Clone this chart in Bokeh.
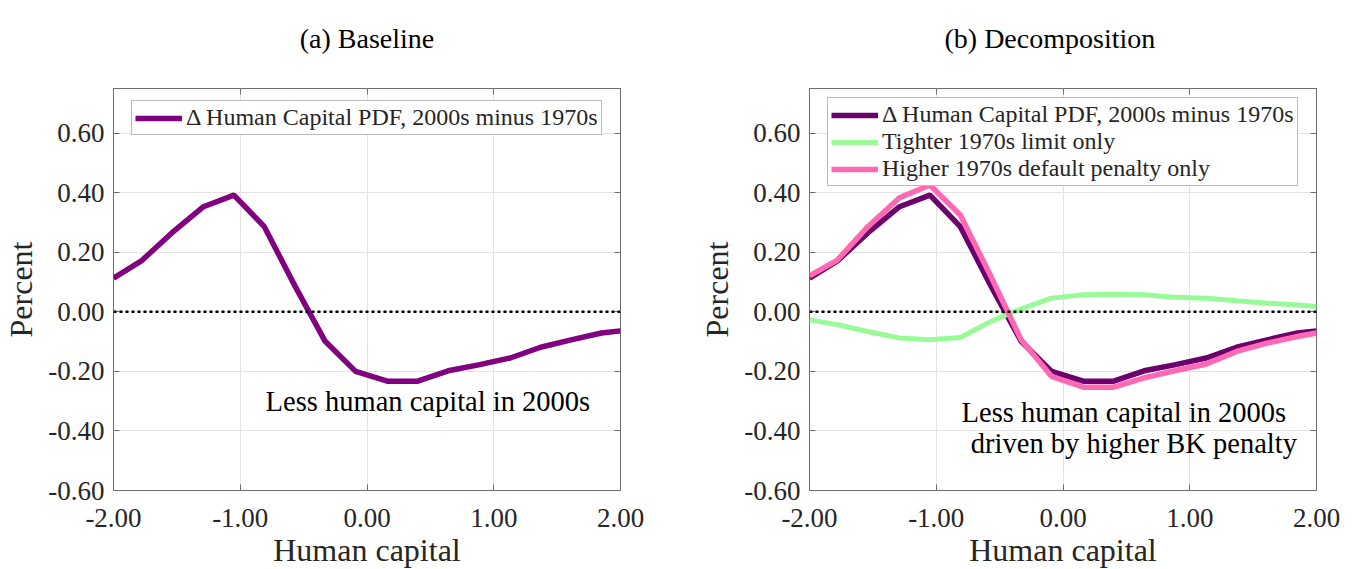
from bokeh.plotting import figure
from bokeh.models import (Range1d, FixedTicker, NumeralTickFormatter, LinearAxis, Label,
                          Span, CustomLabelingPolicy)
from bokeh.layouts import row
from bokeh.embed import file_html
from bokeh.resources import INLINE

# ---- data ----
human_capital = [-2.00, -1.78, -1.54, -1.29, -1.05, -0.81, -0.57, -0.33, -0.09,
                 0.16, 0.40, 0.64, 0.88, 1.13, 1.37, 1.61, 1.85, 2.00]
delta_pdf = [0.113, 0.171, 0.265, 0.353, 0.392, 0.286, 0.088, -0.099, -0.200,
             -0.233, -0.233, -0.198, -0.178, -0.155, -0.119, -0.094, -0.071, -0.064]
tighter_limit = [-0.027, -0.043, -0.066, -0.088, -0.094, -0.086, -0.032, 0.010, 0.046,
                 0.057, 0.059, 0.057, 0.049, 0.046, 0.037, 0.029, 0.023, 0.018]
higher_penalty = [0.121, 0.174, 0.286, 0.383, 0.426, 0.325, 0.120, -0.094, -0.217,
                  -0.253, -0.253, -0.222, -0.198, -0.175, -0.133, -0.105, -0.083, -0.071]
x_ticks = [-2, -1, 0, 1, 2]
y_ticks = [-0.6, -0.4, -0.2, 0.0, 0.2, 0.4, 0.6]

FONT = "Liberation Serif"
FRAME_GRAY = "#6e6e6e"
TXT = "#262626"


def make_fig(border_left, title, title_align, title_offset):
    p = figure(frame_width=507, frame_height=402,
               x_range=Range1d(-2, 2), y_range=Range1d(-0.6, 0.75),
               min_border_left=border_left, min_border_right=40,
               min_border_top=88, min_border_bottom=10,
               output_backend="svg", toolbar_location=None,
               background_fill_color="white", border_fill_color="white")
    p.title.text = title
    p.title.text_font = FONT
    p.title.text_font_size = "28px"
    p.title.text_font_style = "normal"
    p.title.text_color = "black"
    p.title.align = title_align
    p.title.offset = title_offset
    p.title.standoff = 44
    p.title.vertical_align = "top"

    p.outline_line_color = FRAME_GRAY
    p.outline_line_width = 1
    for ax in (p.xaxis[0], p.yaxis[0]):
        ax.axis_line_color = None
        ax.major_tick_line_color = FRAME_GRAY
        ax.major_tick_in = 6
        ax.major_tick_out = 0
        ax.minor_tick_line_color = None
        ax.major_label_text_font = FONT
        ax.major_label_text_font_size = "27px"
        ax.major_label_text_color = TXT
        ax.axis_label_text_font = FONT
        ax.axis_label_text_font_size = "32px"
        ax.axis_label_text_font_style = "normal"
        ax.axis_label_text_color = TXT
        ax.formatter = NumeralTickFormatter(format="0.00")
    p.xaxis[0].ticker = FixedTicker(ticks=x_ticks)
    p.yaxis[0].ticker = FixedTicker(ticks=y_ticks)
    p.xaxis[0].axis_label = "Human capital"
    p.yaxis[0].axis_label = "Percent"
    p.xaxis[0].major_label_standoff = 18
    p.xaxis[0].axis_label_standoff = 2
    p.yaxis[0].major_label_standoff = 9
    p.yaxis[0].axis_label_standoff = 6

    # mirrored ticks on top and right (box on), without labels
    for side, tk in (("right", y_ticks), ("above", x_ticks)):
        ax = LinearAxis(ticker=FixedTicker(ticks=tk))
        ax.axis_line_color = None
        ax.major_tick_line_color = FRAME_GRAY
        ax.major_tick_in = 6
        ax.major_tick_out = 0
        ax.minor_tick_line_color = None
        ax.major_label_standoff = 0
        ax.major_label_policy = CustomLabelingPolicy(
            code="for (const i of indices) { indices.unset(i) }\nreturn indices")
        p.add_layout(ax, side)

    p.xgrid.ticker = FixedTicker(ticks=x_ticks)
    p.ygrid.ticker = FixedTicker(ticks=y_ticks)
    p.grid.grid_line_color = "#e3e3e3"
    p.grid.grid_line_width = 1

    p.add_layout(Span(location=0, dimension="width", line_color="black",
                      line_width=2.5, line_dash="3 3"))
    return p


def style_legend(p, vx, vy):
    lg = p.legend[0]
    lg.location = (vx, vy)
    lg.label_text_font = FONT
    lg.label_text_font_size = "24px"
    lg.label_text_color = TXT
    lg.glyph_width = 47
    lg.glyph_height = 24
    lg.label_height = 24
    lg.label_standoff = 4
    lg.padding = 3
    lg.spacing = 0
    lg.margin = 0
    lg.border_line_color = "#777777"
    lg.border_line_width = 1
    lg.background_fill_color = "white"
    lg.background_fill_alpha = 1.0


# ---- (a) Baseline ----
p1 = make_fig(108, "(a) Baseline", "center", 0)
p1.line(human_capital, delta_pdf, line_color="#800080", line_width=5.5,
        legend_label="\u0394 Human Capital PDF, 2000s minus 1970s")
p1.add_layout(Label(x=-0.80, y=-0.300, text="Less human capital in 2000s",
                    text_align="left", text_baseline="alphabetic",
                    text_font=FONT, text_font_size="28.5px", text_color="black"))
style_legend(p1, 18, 355)

# ---- (b) Decomposition ----
p2 = make_fig(149, "(b) Decomposition", "left", 135)
p2.line(human_capital, delta_pdf, line_color="#6c006c", line_width=5.5,
        legend_label="\u0394 Human Capital PDF, 2000s minus 1970s")
p2.line(human_capital, tighter_limit, line_color="#98fb98", line_width=5,
        legend_label="Tighter 1970s limit only")
p2.line(human_capital, higher_penalty, line_color="#ff69b4", line_width=5.5,
        legend_label="Higher 1970s default penalty only")
p2.add_layout(Label(x=-0.80, y=-0.339, text="Less human capital in 2000s",
                    text_align="left", text_baseline="alphabetic",
                    text_font=FONT, text_font_size="28.5px", text_color="black"))
p2.add_layout(Label(x=-0.727, y=-0.443, text="driven by higher BK penalty",
                    text_align="left", text_baseline="alphabetic",
                    text_font=FONT, text_font_size="28.5px", text_color="black"))
style_legend(p2, 18, 304)

layout = row(p1, p2)
open("out.html", "w").write(file_html(layout, INLINE))
